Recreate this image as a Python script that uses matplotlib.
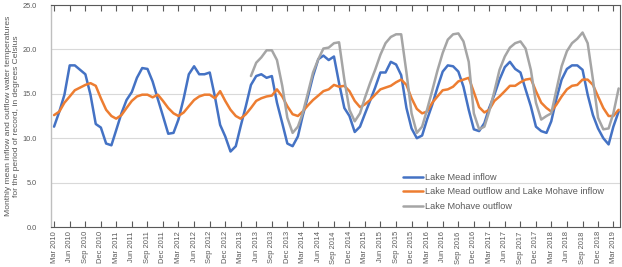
from matplotlib import pyplot as plt
import matplotlib.dates as mdates
import pandas as pd

# monthly values, Mar 2010 .. Apr 2019
start_month = '2010-03-01'
n_months = 110

mead_inflow = [
    11.3, 13.0, 14.9, 18.2, 18.2, 17.7, 17.2, 14.9, 11.6, 11.2,
    9.4, 9.2, 10.9, 12.8, 14.3, 15.2, 16.8, 17.9, 17.8, 16.4, 14.4, 12.5,
    10.5, 10.6, 12.1, 14.5, 17.2, 18.1, 17.2, 17.2, 17.4, 14.7, 11.5, 10.2,
    8.5, 9.1, 11.3, 13.6, 16.0, 17.0, 17.2, 16.8, 17.0, 14.0, 11.7, 9.4,
    9.1, 10.2, 12.5, 14.7, 17.0, 18.9, 19.3, 18.8, 19.2, 16.2, 13.4, 12.5,
    10.7, 11.3, 12.7, 14.2, 15.7, 17.4, 17.4, 18.6, 18.3, 17.1, 13.4, 11.1,
    10.0, 10.3, 12.1, 13.8, 15.7, 17.5, 18.2, 18.1, 17.5, 15.8, 13.2, 11.0,
    10.8, 11.7, 13.4, 14.9, 16.6, 18.0, 18.6, 17.8, 17.4, 15.5, 13.6, 11.3,
    10.8, 10.6, 11.9, 14.5, 16.6, 17.8, 18.2, 18.2, 17.7, 14.9, 12.6, 11.1,
    10.0, 9.3, 11.3, 13.0,
]

mead_outflow = [
    12.6, 13.0, 14.0, 14.7, 15.4, 15.7, 16.0, 16.2, 15.9, 14.5,
    13.2, 12.5, 12.2, 12.6, 13.4, 14.2, 14.7, 14.9, 14.9, 14.6, 14.9, 14.2,
    13.4, 12.8, 12.5, 12.9, 13.6, 14.3, 14.7, 14.9, 14.9, 14.5, 15.3, 14.2,
    13.2, 12.5, 12.2, 12.7, 13.4, 14.2, 14.5, 14.7, 14.8, 15.5, 14.7, 13.6,
    12.7, 12.5, 13.0, 13.7, 14.3, 14.8, 15.3, 15.5, 16.0, 15.8, 15.9, 15.3,
    14.2, 13.5, 13.8, 14.3, 14.9, 15.5, 15.7, 15.9, 16.3, 16.6, 16.0, 14.5,
    13.3, 12.8, 13.0, 14.0, 14.7, 15.4, 15.5, 15.8, 16.4, 16.6, 16.8, 15.2,
    13.5, 12.9, 13.2, 14.2, 14.7, 15.3, 15.9, 15.9, 16.3, 16.6, 16.7, 15.3,
    14.0, 13.4, 13.0, 13.8, 14.7, 15.5, 15.9, 16.0, 16.6, 16.6, 16.0, 14.7,
    13.4, 12.5, 12.5, 13.2,
]

# Lake Mohave outflow starts May 2013
mohave_start = '2013-05-01'
mohave_outflow = [
    17.0, 18.5, 19.1, 19.9, 19.9, 18.8, 15.9, 12.3,
    10.6, 11.3, 12.8, 15.1, 17.4, 18.9, 20.1, 20.2, 20.7, 20.8, 16.6, 13.2,
    11.9, 12.8, 14.5, 16.2, 17.7, 19.4, 20.7, 21.4, 21.7, 21.7, 17.4, 12.8,
    10.6, 11.3, 13.2, 15.4, 17.6, 19.6, 21.1, 21.7, 21.8, 20.9, 18.6, 12.8,
    11.0, 11.3, 13.0, 15.3, 17.7, 19.2, 20.2, 20.7, 20.9, 20.1, 17.7, 14.0,
    12.1, 12.5, 12.8, 15.5, 18.1, 19.8, 20.7, 21.2, 21.9, 20.7, 16.6, 12.3,
    11.0, 11.1, 12.8, 15.6,
]

series_names = ['Lake Mead inflow',
                'Lake Mead outflow and Lake Mohave inflow',
                'Lake Mohave outflow']
series_colors = ['#4472C4', '#ED7D31', '#A5A5A5']

y_label = ('Monthly mean inflow and outflow water temperatures\n'
           'for the period of record, in degrees Celsius')


def main():
    plt.rcParams['font.family'] = ['Liberation Sans', 'DejaVu Sans']
    text_color = '#595959'

    dates = pd.date_range(start_month, periods=n_months, freq='MS')
    mohave_dates = pd.date_range(mohave_start, periods=len(mohave_outflow), freq='MS')

    fig = plt.figure(figsize=(6.22, 2.67), dpi=100)
    ax = fig.add_axes([51 / 622, 40 / 267, 569 / 622, 222 / 267])

    ax.plot(dates, mead_inflow, color=series_colors[0], lw=1.8,
            label=series_names[0], solid_joinstyle='round', solid_capstyle='round')
    ax.plot(dates, mead_outflow, color=series_colors[1], lw=1.8,
            label=series_names[1], solid_joinstyle='round', solid_capstyle='round')
    ax.plot(mohave_dates, mohave_outflow, color=series_colors[2], lw=1.8,
            label=series_names[2], solid_joinstyle='round', solid_capstyle='round')

    ax.set_ylim(0, 25)
    ax.set_yticks([0, 5, 10, 15, 20, 25])
    ax.set_yticklabels([f'{v:.1f}' for v in [0, 5, 10, 15, 20, 25]])
    ax.grid(axis='y', color='#d9d9d9', lw=0.8)
    ax.set_axisbelow(True)

    ax.set_xlim(pd.Timestamp(start_month) - pd.Timedelta(days=18),
                dates[-1] + pd.Timedelta(days=8))
    tick_dates = dates[::3][:37]
    ax.set_xticks(tick_dates)
    ax.xaxis.set_major_formatter(mdates.DateFormatter('%b %Y'))
    ax.tick_params(axis='x', direction='in', top=True, length=4, width=0.8,
                   color='#595959', labelsize=5.4, labelcolor=text_color,
                   labelrotation=90, pad=3)
    ax.tick_params(axis='y', length=0, labelsize=5.3, labelcolor=text_color, pad=10)

    for side in ['top', 'bottom', 'right']:
        ax.spines[side].set_color('#595959')
        ax.spines[side].set_linewidth(0.8)
    ax.spines['left'].set_color('#bfbfbf')
    ax.spines['left'].set_linewidth(1.0)

    fig.text(0.0206, 0.5655, y_label, rotation=90, ha='center', va='center',
             multialignment='center', fontsize=6.1, color=text_color,
             linespacing=1.25)

    leg = ax.legend(loc='center left', bbox_to_anchor=(0.619, 0.158),
                    frameon=False, fontsize=6.6, handlelength=2.2,
                    handletextpad=0.2, labelspacing=0.6, borderpad=0,
                    borderaxespad=0)
    for text in leg.get_texts():
        text.set_color(text_color)

    fig.savefig('out.png', dpi=100)


if __name__ == '__main__':
    main()
